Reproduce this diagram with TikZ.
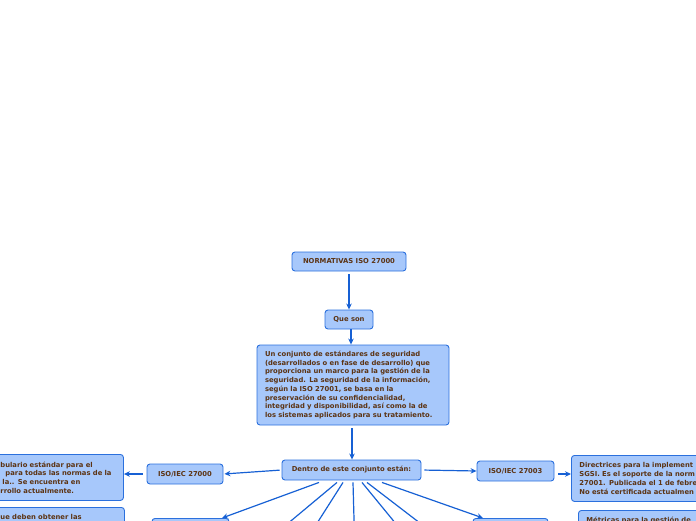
\documentclass[tikz,border=0pt]{standalone}
\usepackage{fontspec}
\setmainfont{DejaVu Sans}
\usetikzlibrary{arrows.meta}
\definecolor{boxfill}{RGB}{167,200,251}
\definecolor{boxline}{RGB}{43,112,221}
\definecolor{arrowc}{RGB}{22,96,212}
\definecolor{txt}{RGB}{92,52,20}
\begin{document}
\begin{tikzpicture}[x=1pt,y=-1pt,
  box/.style={draw=boxline, fill=boxfill, rounded corners=3pt, line width=0.9pt,
    font=\fontsize{6.8}{8.7}\selectfont\bfseries, text=txt, inner sep=0pt},
  conn/.style={draw=arrowc, line width=1.2pt, -{Stealth[length=6pt,width=5.5pt]}},
  plainconn/.style={draw=arrowc, line width=1.2pt}]
\useasboundingbox (0,0) rectangle (696,520);
% top chain
\node[box, minimum width=114pt, minimum height=19pt] (norm) at (349,261.5) {NORMATIVAS ISO 27000};
\node[box, minimum width=48pt, minimum height=19pt] (queson) at (349,319.5) {Que son};
\node[box, text width=176pt, align=left, inner xsep=8pt, minimum height=80pt] (big) at (353,385)
 {Un conjunto de estándares de seguridad\\
  (desarrollados o en fase de desarrollo) que\\
  proporciona un marco para la gestión de la\\
  seguridad. La seguridad de la información,\\
  según la ISO 27001, se basa en la\\
  preservación de su confidencialidad,\\
  integridad y disponibilidad, así como la de\\
  los sistemas aplicados para su tratamiento.};
\node[box, minimum width=139pt, minimum height=20pt] (dentro) at (351.5,470) {Dentro de este conjunto están:};
% second level
\node[box, minimum width=76pt, minimum height=20pt] (iso0) at (185,474) {ISO/IEC 27000};
\node[box, minimum width=77pt, minimum height=20pt] (iso3) at (515.5,471) {ISO/IEC 27003};
% descriptions
\node[box, anchor=north west, text width=115pt, align=left, inner xsep=8pt, minimum height=46pt] (ldef) at (-8,454)
 {bulario estándar para el\\
  \hspace*{5pt}para todas las normas de la\\
  \hspace*{2pt}la.. Se encuentra en\\
  rrollo actualmente.};
\node[box, anchor=north west, text width=116pt, align=left, inner xsep=8pt, inner ysep=7pt] (ldef2) at (-8,507)
 {ue deben obtener las};
\node[box, anchor=north west, text width=200pt, align=left, inner xsep=8pt, minimum height=46pt] (rdef) at (571,455)
 {Directrices para la implement\\
  SGSI. Es el soporte de la norm\\
  27001. Publicada el 1 de febre\\
  No está certificada actualmen};
\node[box, anchor=north west, text width=200pt, align=left, inner xsep=8pt, inner ysep=7pt] (rdef2) at (578,510)
 {Métricas para la gestión de};
% lower boxes
\node[box, anchor=north, minimum width=77pt, minimum height=20pt] (mbl) at (190.5,518) {};
\node[box, anchor=north, minimum width=75pt, minimum height=20pt] (mbr) at (510.5,518) {};
% free ends below the picture
\coordinate (c2) at (280,530);
\coordinate (c3) at (312.7,530);
\coordinate (c4) at (354.3,530);
\coordinate (c5) at (401,530);
\coordinate (c6) at (429,530);
% connectors
\draw[conn, shorten <=3pt] (norm) -- (queson);
\draw[conn] ([xshift=2pt]queson.south) -- ([xshift=2pt]queson.south |- big.north);
\draw[conn, shorten <=3pt] ([xshift=-1pt]big.south) -- ([xshift=-1pt]big.south |- dentro.north);
\draw[conn, shorten <=2pt, shorten >=1pt] (dentro.west) -- (iso0.east);
\draw[conn, shorten <=3pt] (dentro.east) -- (iso3.west);
\draw[conn, shorten <=4pt] (iso0.west) -- (iso0.west -| ldef.east);
\draw[conn, shorten <=4pt] ([yshift=-3pt]iso3.east) -- ([yshift=-3pt]iso3.east -| rdef.west);
\draw[conn] ([xshift=-32.5pt,yshift=-2pt]dentro.south) -- ([xshift=31.5pt]mbl.north);
\draw[plainconn] ([xshift=-14.5pt,yshift=-2pt]dentro.south) -- (c2);
\draw[plainconn] ([xshift=-8.5pt,yshift=-2pt]dentro.south) -- (c3);
\draw[plainconn] ([xshift=1.5pt,yshift=-2pt]dentro.south) -- (c4);
\draw[plainconn] ([xshift=10.5pt,yshift=-2pt]dentro.south) -- (c5);
\draw[plainconn] ([xshift=15.5pt,yshift=-2pt]dentro.south) -- (c6);
\draw[conn] ([xshift=30.5pt,yshift=-2pt]dentro.south) -- ([xshift=-27.5pt]mbr.north);
\end{tikzpicture}
\end{document}
